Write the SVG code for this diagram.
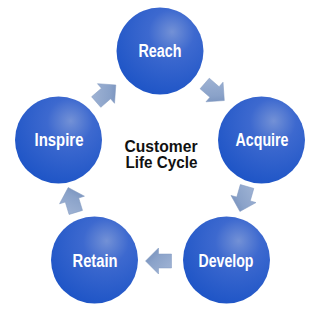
<svg xmlns="http://www.w3.org/2000/svg" width="320" height="312" viewBox="0 0 320 312">
  <defs>
    <radialGradient id="ball" cx="0.62" cy="0.3" r="0.75" fx="0.64" fy="0.28">
      <stop offset="0" stop-color="#7391d6"/>
      <stop offset="0.35" stop-color="#3d69cf"/>
      <stop offset="1" stop-color="#1d54c6"/>
    </radialGradient>
    <linearGradient id="arr" x1="0" y1="0" x2="1" y2="1">
      <stop offset="0" stop-color="#a3b6d6"/>
      <stop offset="0.6" stop-color="#8aa2c9"/>
      <stop offset="1" stop-color="#6c87b5"/>
    </linearGradient>
    <path id="arrow" d="M-13,-7 L0,-7 L0,-13 L13,0 L0,13 L0,7 L-13,7 Z"/>
  </defs>
  <style>
    .ball { fill: url(#ball); }
    .lbl { font-family: "Liberation Sans", Arial, sans-serif; font-weight: bold; font-size: 18px; fill: #ffffff; text-anchor: middle; }
    .ctr { font-family: "Liberation Sans", Arial, sans-serif; font-weight: bold; font-size: 17px; fill: #111111; text-anchor: middle; }
    .arr { fill: url(#arr); stroke: #8199c0; stroke-width: 0.5; }
  </style>
  <rect width="320" height="312" fill="#ffffff"/>

  <g id="connectors">
    <use href="#arrow" class="arr" transform="translate(214.5,92) rotate(41)"/>
    <use href="#arrow" class="arr" transform="translate(243.5,199) rotate(106)"/>
    <use href="#arrow" class="arr" transform="translate(158.5,261) rotate(180)"/>
    <use href="#arrow" class="arr" transform="translate(72,200) rotate(253)"/>
    <use href="#arrow" class="arr" transform="translate(106,93.5) rotate(-41)"/>
  </g>

  <g id="reach">
    <circle class="ball" cx="160" cy="51" r="43.5"/>
    <text class="lbl" x="160" y="57" textLength="43" lengthAdjust="spacingAndGlyphs">Reach</text>
  </g>
  <g id="acquire">
    <circle class="ball" cx="261.5" cy="140" r="43.5"/>
    <text class="lbl" x="262" y="146" textLength="53" lengthAdjust="spacingAndGlyphs">Acquire</text>
  </g>
  <g id="develop">
    <circle class="ball" cx="226.5" cy="260" r="43.5"/>
    <text class="lbl" x="226" y="266.5" textLength="55" lengthAdjust="spacingAndGlyphs">Develop</text>
  </g>
  <g id="retain">
    <circle class="ball" cx="94.5" cy="260" r="43.5"/>
    <text class="lbl" x="95" y="266.5" textLength="45" lengthAdjust="spacingAndGlyphs">Retain</text>
  </g>
  <g id="inspire">
    <circle class="ball" cx="58.5" cy="140" r="43.5"/>
    <text class="lbl" x="59" y="146" textLength="49" lengthAdjust="spacingAndGlyphs">Inspire</text>
  </g>
  <g id="center">
    <text class="ctr" x="161" y="151.5" textLength="73" lengthAdjust="spacingAndGlyphs">Customer</text>
    <text class="ctr" x="161.5" y="168" textLength="72" lengthAdjust="spacingAndGlyphs">Life Cycle</text>
  </g>
</svg>
